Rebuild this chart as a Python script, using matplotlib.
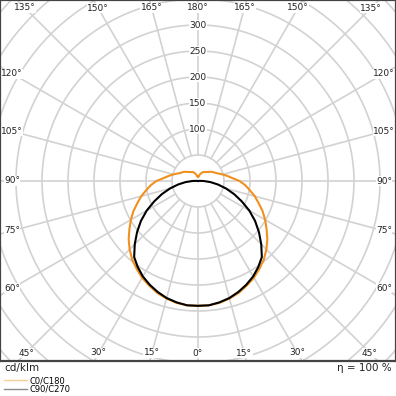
import numpy as np
import matplotlib
matplotlib.use("Agg")
from matplotlib import pyplot as plt
from matplotlib.lines import Line2D

# gamma angles (deg, 0 = straight down) and intensities in cd/klm
gamma = [0, 5, 10, 15, 20, 25, 30, 35, 40, 45, 50, 55, 60, 65, 70, 75, 80, 85, 90,
         95, 100, 105, 110, 115, 120, 125, 130, 135, 140, 145, 150, 155, 160, 165, 170, 175, 180]
c0_c180 = [240, 240, 238, 234, 229, 222, 215, 206, 197, 186, 174, 161, 149, 137, 124, 113, 101, 91, 80,
           66, 57, 49, 42, 37, 34, 31, 27, 24.5, 22.5, 21, 20, 17.5, 15, 12.5, 10, 8.5, 8]
c90_c270 = [240, 240, 237, 233, 227, 220, 212, 202, 191, 172, 153, 134, 114, 93, 74, 56, 39, 24, 11,
            3, 0, 0, 0, 0, 0, 0, 0, 0, 0, 0, 0, 0, 0, 0, 0, 0, 0]
ring_values = [50, 100, 150, 200, 250, 300, 350, 400, 450, 500]
ring_labels = [100, 150, 200, 250, 300]
spoke_angles = list(range(0, 360, 15))

orange = "#f0901e"
grid_col = "#d2d2d2"

W = H = 396
px_per_unit = 0.52          # pixels per cd/klm
cx, cy = 198, 181           # centre of the diagram, pixels from top-left
frame_bottom = 361          # bottom edge of the diagram box
R = 560                     # polar axes radius in data units

fig = plt.figure(figsize=(W / 100, H / 100), dpi=100)
fig.patch.set_facecolor("white")

rad = R * px_per_unit
ax = fig.add_axes([(cx - rad) / W, (H - cy - rad) / H, 2 * rad / W, 2 * rad / H],
                  projection="polar")
ax.set_theta_zero_location("S")
ax.set_theta_direction(1)
ax.set_ylim(0, R)
ax.grid(False)
ax.set_xticks([])
ax.set_yticks([])
ax.spines["polar"].set_visible(False)
ax.patch.set_visible(False)

# box around the diagram (drawn on top)
frame = fig.add_axes([0, (H - frame_bottom) / H, 1, frame_bottom / H], zorder=5)
frame.set_facecolor("none")
frame.set_xticks([])
frame.set_yticks([])
for s in frame.spines.values():
    s.set_color("#444444")
    s.set_linewidth(1.6)
clip = frame.patch

artists = []
th = np.linspace(0, 2 * np.pi, 721)
for rv in ring_values:
    artists += ax.plot(th, np.full_like(th, rv), color=grid_col, lw=1.2)
for a in spoke_angles:
    artists += ax.plot([np.radians(a)] * 2, [50, R], color=grid_col, lw=1.2)


def full_curve(vals):
    g = np.radians(gamma)
    v = np.array(vals, dtype=float)
    theta = np.concatenate([-g[::-1], g[1:]])
    r = np.concatenate([v[::-1], v[1:]])
    return theta, r


t, r = full_curve(c0_c180)
artists += ax.plot(t, r, color=orange, lw=1.5, zorder=3)
t, r = full_curve(c90_c270)
artists += ax.plot(t, r, color="black", lw=1.5, zorder=4)
for a in artists:
    a.set_clip_path(clip)

# angle labels along the box edges
half_w = (cx - 12) / px_per_unit
top_h = (cy - 8) / px_per_unit
bot_h = (frame_bottom - cy - 8) / px_per_unit
for a in spoke_angles:
    ar = np.radians(a)
    s, c = abs(np.sin(ar)), np.cos(ar)
    lims = []
    if s > 1e-6:
        lims.append(half_w / s)
    if c > 1e-6:
        lims.append(bot_h / c)
    elif c < -1e-6:
        lims.append(top_h / -c)
    rr = min(lims)
    lab = a if a <= 180 else 360 - a
    ax.text(ar, rr, f"{lab}°", ha="center", va="center", fontsize=6.5, color="#222222",
            bbox=dict(facecolor="white", edgecolor="none", pad=0.3), zorder=6)

for v in ring_labels:
    ax.text(np.pi, v, str(v), ha="center", va="center", fontsize=6.5, color="#222222",
            bbox=dict(facecolor="white", edgecolor="none", pad=0.3), zorder=6)

fig.text(4 / W, 1 - 368 / H, "cd/klm", ha="left", va="center", fontsize=7.5, color="#222222")
fig.text(392 / W, 1 - 368 / H, "η = 100 %", ha="right", va="center", fontsize=7.5, color="#222222")

handles = [Line2D([], [], color=orange, lw=1, alpha=0.45),
           Line2D([], [], color="black", lw=1, alpha=0.45)]
fig.legend(handles, ["C0/C180", "C90/C270"], loc="upper left",
           bbox_to_anchor=(4 / W, 1 - 376 / H), frameon=False, fontsize=6,
           handlelength=2.8, handletextpad=0.3, labelspacing=0.0, borderpad=0,
           borderaxespad=0)

fig.savefig("out.png", dpi=100)
